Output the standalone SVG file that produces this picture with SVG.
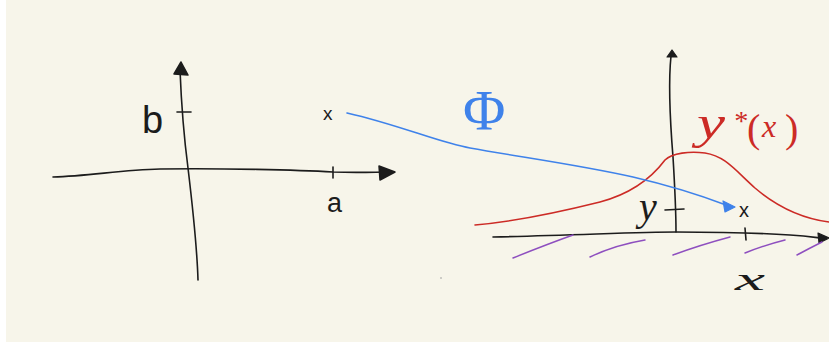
<svg xmlns="http://www.w3.org/2000/svg" width="829" height="345" viewBox="0 0 829 345">
<style>
.ink{fill:none;stroke:#1c1c1c;stroke-width:1.6;stroke-linecap:round;stroke-linejoin:round}
.blue{fill:none;stroke:#3f82ea;stroke-width:1.6;stroke-linecap:round}
.red{fill:none;stroke:#cc2b26;stroke-width:1.6;stroke-linecap:round}
.hatch{fill:none;stroke:#8e4fbf;stroke-width:1.5;stroke-linecap:round}
.lbl{font-family:"Liberation Sans",Arial,sans-serif;fill:#1c1c1c}
.serif{font-family:"Liberation Serif","Times New Roman",serif}
</style>
<rect x="0" y="0" width="829" height="345" fill="#ffffff"/>
<rect x="6" y="0" width="823" height="342" fill="#f7f5ea"/>
<circle cx="441" cy="278" r="0.8" fill="#999"/>

<g id="left-axes">
<path class="ink" d="M180,70 C181,95 183,130 188,168 C193,210 197,245 198,280"/>
<polygon points="181,62 188,75 174,74" fill="#1c1c1c" stroke="#1c1c1c" stroke-width="1.5" stroke-linejoin="round"/>
<path class="ink" d="M53,177 C90,176 120,170 160,169 C220,168 300,170 333,172 C360,173 375,172 388,172"/>
<polygon points="395,172 379,166 380,180" fill="#1c1c1c" stroke="#1c1c1c" stroke-width="1.5" stroke-linejoin="round"/>
<path class="ink" d="M333,167 L333,178"/>
<path class="ink" d="M177,112 L191,112"/>
<text class="lbl" x="142" y="133" font-size="38">b</text>
<text class="lbl" x="327" y="212" font-size="27">a</text>
<text class="lbl" x="323" y="120" font-size="19">x</text>
</g>

<g id="right-axes">
<path class="ink" d="M671,56 C668,85 670,120 673,157 C675,190 676,215 676,232"/>
<polygon points="672,50 677,57 667,57" fill="#1c1c1c" stroke="#1c1c1c" stroke-width="1.2" stroke-linejoin="round"/>
<path class="ink" d="M493,237 C580,235 640,232 676,232 C720,232 760,233 790,235 C805,236 812,237 820,238"/>
<polygon points="829,238 818,233 819,243" fill="#1c1c1c" stroke="#1c1c1c" stroke-width="1.2" stroke-linejoin="round"/>
<path class="ink" d="M745,228 L746,240"/>
<path class="ink" d="M665,210 L684,209"/>
<text class="lbl serif" x="639" y="220" font-size="40" font-style="italic">y</text>
<text class="lbl" x="739" y="217" font-size="20">x</text>
<text class="lbl serif" x="735" y="290" font-size="32" font-style="italic" textLength="30" lengthAdjust="spacingAndGlyphs">x</text>
</g>

<g id="feasible-region">
<path class="hatch" d="M513,258 Q545,245 573,235"/>
<path class="hatch" d="M590,257 Q615,245 645,240"/>
<path class="hatch" d="M673,255 Q700,245 730,237"/>
<path class="hatch" d="M745,253 Q765,245 785,240"/>
<path class="hatch" d="M797,255 Q810,248 822,242"/>
</g>

<g id="curve-ystar">
<path class="red" d="M475,225 C510,222 560,212 600,202 C630,194 650,180 665,160 C672,153 690,151 705,153 C725,156 735,170 755,188 C775,205 800,218 829,222"/>
<text class="serif" fill="#cc2b26" font-style="italic" font-size="46"><tspan x="697" y="138" textLength="28" lengthAdjust="spacingAndGlyphs">y</tspan><tspan x="733" y="130" font-size="28">*</tspan><tspan x="747" y="142" font-size="40" font-style="normal">(</tspan><tspan x="762" y="137" font-size="32">x</tspan><tspan x="785" y="142" font-size="40" font-style="normal">)</tspan></text>
</g>

<g id="connectors">
<path class="blue" d="M347,113 C400,125 440,143 470,148 C520,157 580,165 633,177 C680,188 705,197 726,205"/>
<polygon points="735,207 723,201 725,212" fill="#3f82ea" stroke="#3f82ea" stroke-width="1.2" stroke-linejoin="round"/>
<text class="serif" x="463" y="130" font-size="58" fill="#3f82ea">Φ</text>
</g>
</svg>
